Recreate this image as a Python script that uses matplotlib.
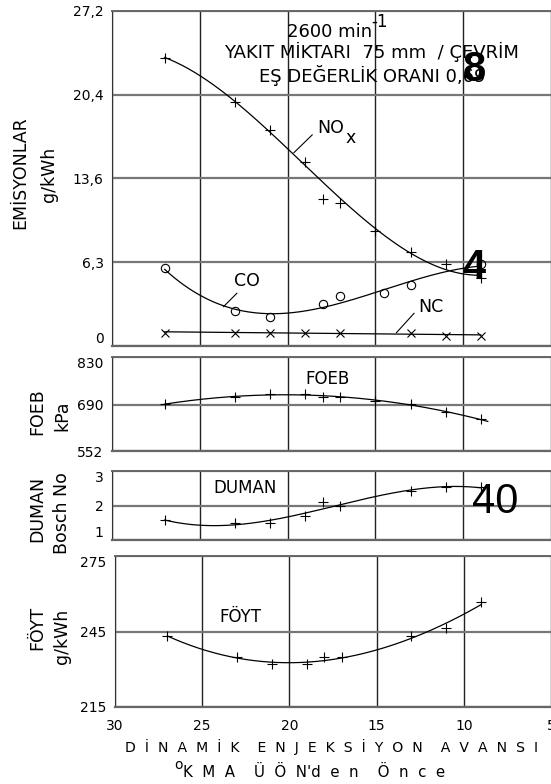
import numpy as np
import matplotlib.pyplot as plt

W, H = 551, 784

# dinamik enjeksiyon avansi (oKMA UON'den once)
avans = [27, 23, 21, 19, 18, 17, 15, 13, 11, 9]
nox = [23.4, 19.8, 17.5, 14.9, 11.9, 11.6, 9.3, 7.6, 6.6, 5.5]

co_avans = [27, 23, 21, 18, 17, 14.5, 13, 9]
co = [6.3, 2.8, 2.3, 3.4, 4.0, 4.3, 4.9, 6.6]

nc_avans = [27, 23, 21, 19, 17, 13, 11, 9]
nc = [1.06, 1.06, 1.06, 1.06, 1.06, 1.06, 0.81, 0.81]

foeb = [691, 713, 722, 722, 713, 712, 702, 691, 668, 647]

duman_avans = [27, 23, 21, 19, 18, 17, 13, 11, 9]
duman = [1.58, 1.48, 1.48, 1.70, 2.09, 1.99, 2.42, 2.53, 2.53]

foyt_avans = [27, 23, 21, 19, 18, 17, 13, 11, 9]
foyt = [243.3, 234.7, 232.0, 232.0, 234.7, 234.7, 243.3, 246.3, 256.6]

x_ticks = [30, 25, 20, 15, 10, 5]
em_ticks = [0, 6.8, 13.6, 20.4, 27.2]
em_labels = ['0', '6,3', '13,6', '20,4', '27,2']


def px(x, y):
    return x / W, 1 - y / H


def fit(ax, xs, ys, deg, x0=27, x1=9, skip=None):
    # el cizimi egri 18'deki sapan noktayi dikkate almiyor
    w = [0.05 if x == skip else 1.0 for x in xs]
    c = np.polyfit(xs, ys, deg, w=w)
    xx = np.linspace(x0, x1, 200)
    ax.plot(xx, np.polyval(c, xx), color='black', lw=0.9)


def setup(ax, ticks, labels, ylim, xlabels=False, top_va=None, bottom_va=None):
    ax.set_xlim(30, 5)
    ax.set_ylim(*ylim)
    ax.set_xticks(x_ticks)
    ax.set_yticks(ticks)
    ax.set_yticklabels(labels)
    if not xlabels:
        ax.set_xticklabels([])
    ax.tick_params(length=0, labelsize=10, pad=6)
    ax.tick_params(axis='x', pad=9)
    ax.grid(True, axis='x', color='#222222', lw=1.0)
    ax.grid(True, axis='y', color='#777777', lw=1.6)
    ax.set_axisbelow(True)
    ax.spines['right'].set_visible(False)
    ax.spines['left'].set_color('#333333')
    ax.spines['top'].set_color('#666666')
    ax.spines['bottom'].set_color('#666666')
    ax.spines['top'].set_linewidth(1.4)
    ax.spines['bottom'].set_linewidth(1.6)
    lbls = ax.get_yticklabels()
    if top_va:
        lbls[-1].set_va(top_va)
    if bottom_va:
        lbls[0].set_va(bottom_va)


plt.rcParams['font.family'] = 'DejaVu Sans'
fig = plt.figure(figsize=(W / 100, H / 100), dpi=100)

ax1 = fig.add_axes([112 / W, 1 - 345.7 / H, (W - 112) / W, 334.7 / H])
ax2 = fig.add_axes([112 / W, 1 - 451.3 / H, (W - 112) / W, 94 / H])
ax3 = fig.add_axes([112 / W, 1 - 540 / H, (W - 112) / W, 69 / H])
ax4 = fig.add_axes([115 / W, 1 - 707 / H, (W - 115) / W, 151 / H])

# emisyonlar
setup(ax1, em_ticks, em_labels, (0, 27.2), bottom_va='bottom')
fit(ax1, avans, nox, 3, skip=18)
ax1.plot(avans, nox, '+', color='black', ms=7, mew=0.8)
fit(ax1, co_avans, co, 3)
ax1.plot(co_avans, co, 'o', mfc='none', mec='black', ms=6, mew=0.8)
fit(ax1, nc_avans, nc, 1)
ax1.plot(nc_avans, nc, 'x', color='black', ms=5.5, mew=0.8)
ax1.text(18.3, 17.7, 'NO', fontsize=12.5, va='center')
ax1.text(16.7, 16.9, 'x', fontsize=12.5, va='center')
ax1.plot([18.6, 19.64], [17.13, 15.69], color='black', lw=0.8)
ax1.text(22.3, 5.26, 'CO', fontsize=12.5, ha='center', va='center')
ax1.plot([22.89, 23.65], [4.26, 3.17], color='black', lw=0.8)
ax1.text(11.84, 3.17, 'NC', fontsize=12.5, ha='center', va='center')
ax1.plot([12.8, 13.8], [2.63, 1.06], color='black', lw=0.8)

# FOEB
setup(ax2, [552, 690, 830], ['552', '690', '830'], (552, 830), top_va='top')
fit(ax2, avans, foeb, 2, 27, 8.6)
ax2.plot(avans, foeb, '+', color='black', ms=7, mew=0.8)
ax2.text(17.75, 765, 'FOEB', fontsize=12, ha='center', va='center')

# DUMAN
setup(ax3, [1, 2, 3], ['1', '2', '3'], (1, 3), top_va='top', bottom_va='bottom')
fit(ax3, duman_avans, duman, 3)
ax3.plot(duman_avans, duman, '+', color='black', ms=7, mew=0.8)
ax3.text(22.4, 2.52, 'DUMAN', fontsize=12, ha='center', va='center')

# FOYT
setup(ax4, [215, 245, 275], ['215', '245', '275'], (215, 275), xlabels=True,
      top_va='top')
fit(ax4, foyt_avans, foyt, 3)
ax4.plot(foyt_avans, foyt, '+', color='black', ms=7, mew=0.8)
ax4.text(22.8, 250.9, 'FÖYT', fontsize=12, ha='center', va='center')

# basliklar
fig.text(*px(330, 32), '2600 min', fontsize=13, ha='center', va='center')
fig.text(*px(379, 22), '-1', fontsize=12, ha='center', va='center')
fig.text(*px(371, 52), 'YAKIT MİKTARI  75 mm  / ÇEVRİM', fontsize=13,
         ha='center', va='center')
fig.text(*px(372, 76), 'EŞ DEĞERLİK ORANI 0,69', fontsize=13,
         ha='center', va='center')

# eksen basliklari
ylab = [('EMİSYONLAR', 20, 173), ('g/kWh', 49, 174),
        ('FOEB', 37, 412), ('kPa', 62, 416),
        ('DUMAN', 37, 509), ('Bosch No', 62, 513),
        ('FÖYT', 37, 628), ('g/kWh', 62, 636)]
for s, x, y in ylab:
    fig.text(*px(x, y), s, fontsize=12.5, rotation=90, ha='center', va='center')

fig.text(*px(332, 747), 'D  İ  N  A  M  İ  K    E  N  J  E  K  S  İ  Y  O  N    A  V  A  N  S  I',
         fontsize=10.1, ha='center', va='center')
fig.text(*px(174, 765), 'o', fontsize=10, ha='left', va='center')
fig.text(*px(183, 772), 'K  M  A    Ü  Ö  N\'d  e  n    Ö  n  c  e',
         fontsize=10.8, ha='left', va='center')

# sayfa numaralari
fig.text(*px(474, 70), '8', fontsize=30, family='Liberation Sans',
         fontweight='bold', ha='center', va='center')
fig.text(*px(474, 268), '4', fontsize=30, family='Liberation Sans',
         fontweight='bold', ha='center', va='center')
fig.text(*px(495, 502), '40', fontsize=30, family='Liberation Sans',
         ha='center', va='center')

fig.savefig('out.png', dpi=100)
